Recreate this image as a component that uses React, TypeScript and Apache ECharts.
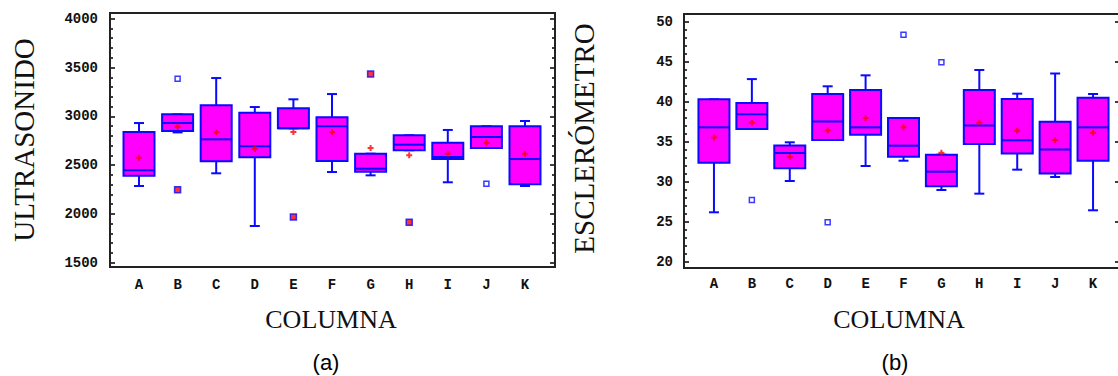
import React, { useEffect, useRef } from 'react';
import * as echarts from 'echarts';

const categories = ['A', 'B', 'C', 'D', 'E', 'F', 'G', 'H', 'I', 'J', 'K'];

// [lowWhisker, Q1, median, Q3, highWhisker]
const ultraBox = [
  [2286, 2391, 2447, 2839, 2931],
  [2835, 2850, 2931, 3020, 3020],
  [2416, 2539, 2764, 3113, 3392],
  [1876, 2580, 2693, 3037, 3095],
  [2877, 2877, 2877, 3082, 3174],
  [2429, 2542, 2898, 2990, 3228],
  [2395, 2432, 2463, 2617, 2617],
  [2652, 2652, 2709, 2805, 2805],
  [2324, 2562, 2583, 2730, 2860],
  [2675, 2675, 2788, 2898, 2898],
  [2286, 2303, 2562, 2898, 2952],
];
const ultraMean = [2576, 2893, 2836, 2665, 2839, 2839, 2675, 2600, 2617, 2730, 2617];
const ultraOutliers = [['B', 3385], ['J', 2310]];
const ultraFarOutliers = [['B', 2248], ['E', 1968], ['G', 3433], ['H', 1914]];

const esclBox = [
  [26.15, 32.35, 36.77, 40.27, 40.27],
  [36.56, 36.56, 38.4, 39.8, 42.8],
  [30.06, 31.65, 33.56, 34.5, 34.9],
  [35.2, 35.2, 37.5, 40.94, 41.9],
  [31.94, 35.85, 36.77, 41.44, 43.27],
  [32.6, 33.1, 34.48, 37.94, 37.94],
  [28.94, 29.4, 31.23, 33.35, 33.35],
  [28.48, 34.69, 37.0, 41.44, 43.94],
  [31.48, 33.5, 35.15, 40.3, 40.98],
  [30.56, 31.0, 34.0, 37.48, 43.5],
  [26.4, 32.6, 36.77, 40.48, 40.94],
];
const esclMean = [35.5, 37.35, 33.06, 36.4, 37.94, 36.77, 33.6, 37.35, 36.35, 35.2, 36.1];
const esclOutliers = [['B', 27.7], ['D', 24.9], ['F', 48.35], ['G', 44.9]];

const BLUE = '#0a0aff';
const MAGENTA = '#ff00ff';
const RED = '#ff0000';
const PLUS = 'path://M2,0H4V6H2Z M0,2H6V4H0Z';
const TICK_FONT = { fontFamily: 'Liberation Mono', fontWeight: 'bold', fontSize: 14, color: '#111' };

function boxRenderer(boxWidth: number, capWidth: number) {
  return (params: any, api: any) => {
    const i = api.value(0);
    const lo = api.coord([i, api.value(1)]);
    const q1 = api.coord([i, api.value(2)]);
    const md = api.coord([i, api.value(3)]);
    const q3 = api.coord([i, api.value(4)]);
    const hi = api.coord([i, api.value(5)]);
    const cx = lo[0];
    const hw = boxWidth / 2;
    const hc = capWidth / 2;
    const st = { stroke: BLUE, lineWidth: 2 };
    return {
      type: 'group',
      children: [
        { type: 'line', shape: { x1: cx, y1: hi[1], x2: cx, y2: q3[1] }, style: st },
        { type: 'line', shape: { x1: cx - hc, y1: hi[1], x2: cx + hc, y2: hi[1] }, style: st },
        { type: 'line', shape: { x1: cx, y1: lo[1], x2: cx, y2: q1[1] }, style: st },
        { type: 'line', shape: { x1: cx - hc, y1: lo[1], x2: cx + hc, y2: lo[1] }, style: st },
        {
          type: 'rect',
          shape: { x: cx - hw, y: q3[1], width: boxWidth, height: q1[1] - q3[1] },
          style: { fill: MAGENTA, stroke: BLUE, lineWidth: 2 },
        },
        { type: 'line', shape: { x1: cx - hw, y1: md[1], x2: cx + hw, y2: md[1] }, style: st },
      ],
    };
  };
}

function tickAxis(gridIndex: number, position: string, min: number, max: number, interval: number, showLabel: boolean, minor: boolean, tickLen: number, labelMargin: number) {
  return {
    type: 'value',
    gridIndex,
    position,
    min,
    max,
    interval,
    axisLine: { show: false },
    axisTick: { show: true, inside: true, length: tickLen, lineStyle: { color: '#000', width: 1.5 } },
    minorTick: { show: minor, splitNumber: 5, length: 3, lineStyle: { color: '#000', width: 1.5 } },
    splitLine: { show: false },
    minorSplitLine: { show: false },
    axisLabel: { show: showLabel, margin: labelMargin, formatter: (v: number) => String(v), ...TICK_FONT },
  };
}

function hiddenY(gridIndex: number, min: number, max: number) {
  return { type: 'value', gridIndex, min, max, show: false, splitLine: { show: false } };
}

function catAxis(gridIndex: number) {
  return {
    type: 'category',
    gridIndex,
    data: categories,
    boundaryGap: true,
    axisLine: { show: false },
    axisTick: { show: false },
    splitLine: { show: false },
    axisLabel: { margin: 15, ...TICK_FONT },
  };
}

export default function App() {
  const ref = useRef<HTMLDivElement>(null);
  useEffect(() => {
    document.body.style.margin = '0';
    const chart = echarts.init(ref.current!, null, { renderer: 'svg' });
    const titleStyle = { fontFamily: 'Liberation Serif', fontSize: 29, fill: '#111', textAlign: 'center', textVerticalAlign: 'middle' };
    chart.setOption({
      animation: false,
      backgroundColor: '#fff',
      grid: [
        { left: 110, top: 18.7, width: 445, height: 244 },
        { left: 119.7, top: 18.7, width: 424.6, height: 244 },
        { left: 684, top: 21.5, width: 434, height: 240 },
        { left: 695, top: 21.5, width: 417, height: 240 },
      ],
      xAxis: [
        { type: 'value', gridIndex: 0, show: false, min: 0, max: 1 },
        catAxis(1),
        { type: 'value', gridIndex: 2, show: false, min: 0, max: 1 },
        catAxis(3),
      ],
      yAxis: [
        tickAxis(0, 'left', 1500, 4000, 500, true, true, 5, 12),
        tickAxis(0, 'right', 1500, 4000, 500, false, true, 5, 8),
        hiddenY(1, 1500, 4000),
        tickAxis(2, 'left', 20, 50, 5, true, true, 5, 11),
        tickAxis(2, 'right', 20, 50, 5, false, false, 3, 8),
        hiddenY(3, 20, 50),
      ],
      graphic: [
        { type: 'rect', shape: { x: 110, y: 13, width: 445, height: 254 }, style: { fill: 'none', stroke: '#222', lineWidth: 2 }, z: 10 },
        { type: 'rect', shape: { x: 684, y: 14, width: 438, height: 254 }, style: { fill: 'none', stroke: '#222', lineWidth: 2 }, z: 10 },
        { type: 'text', x: 24, y: 140, rotation: Math.PI / 2, style: { text: 'ULTRASONIDO', ...titleStyle } },
        { type: 'text', x: 584, y: 138.5, rotation: Math.PI / 2, style: { text: 'ESCLERÓMETRO', ...titleStyle } },
        { type: 'text', x: 331, y: 319, style: { text: 'COLUMNA', ...titleStyle, fontSize: 26 } },
        { type: 'text', x: 899, y: 319, style: { text: 'COLUMNA', ...titleStyle, fontSize: 26 } },
        { type: 'text', x: 326, y: 362, style: { text: '(a)', fontFamily: 'Liberation Sans', fontSize: 22, fill: '#000', textAlign: 'center', textVerticalAlign: 'middle' } },
        { type: 'text', x: 895, y: 362, style: { text: '(b)', fontFamily: 'Liberation Sans', fontSize: 22, fill: '#000', textAlign: 'center', textVerticalAlign: 'middle' } },
      ],
      series: [
        {
          type: 'custom',
          xAxisIndex: 1,
          yAxisIndex: 2,
          renderItem: boxRenderer(31, 10),
          encode: { x: 0, y: [1, 2, 3, 4, 5] },
          data: ultraBox.map((b, i) => [i, ...b]),
          z: 2,
        },
        {
          type: 'scatter', xAxisIndex: 1, yAxisIndex: 2, symbol: 'rect', symbolSize: 5,
          itemStyle: { color: '#fff', borderColor: BLUE, borderWidth: 1.5 },
          data: ultraOutliers, z: 3,
        },
        {
          type: 'scatter', xAxisIndex: 1, yAxisIndex: 2, symbol: 'rect', symbolSize: 6,
          itemStyle: { color: RED, borderColor: BLUE, borderWidth: 1.5 },
          data: ultraFarOutliers, z: 3,
        },
        {
          type: 'scatter', xAxisIndex: 1, yAxisIndex: 2, symbol: PLUS, symbolSize: 6,
          itemStyle: { color: RED },
          data: ultraMean.map((v, i) => [categories[i], v]), z: 4,
        },
        {
          type: 'custom',
          xAxisIndex: 3,
          yAxisIndex: 5,
          renderItem: boxRenderer(31, 10),
          encode: { x: 0, y: [1, 2, 3, 4, 5] },
          data: esclBox.map((b, i) => [i, ...b]),
          z: 2,
        },
        {
          type: 'scatter', xAxisIndex: 3, yAxisIndex: 5, symbol: 'rect', symbolSize: 5,
          itemStyle: { color: '#fff', borderColor: BLUE, borderWidth: 1.5 },
          data: esclOutliers, z: 3,
        },
        {
          type: 'scatter', xAxisIndex: 3, yAxisIndex: 5, symbol: PLUS, symbolSize: 6,
          itemStyle: { color: RED },
          data: esclMean.map((v, i) => [categories[i], v]), z: 4,
        },
      ],
    });
    return () => chart.dispose();
  }, []);
  return <div ref={ref} style={{ position: 'absolute', left: 0, top: 0, width: 1118, height: 376 }} />;
}
